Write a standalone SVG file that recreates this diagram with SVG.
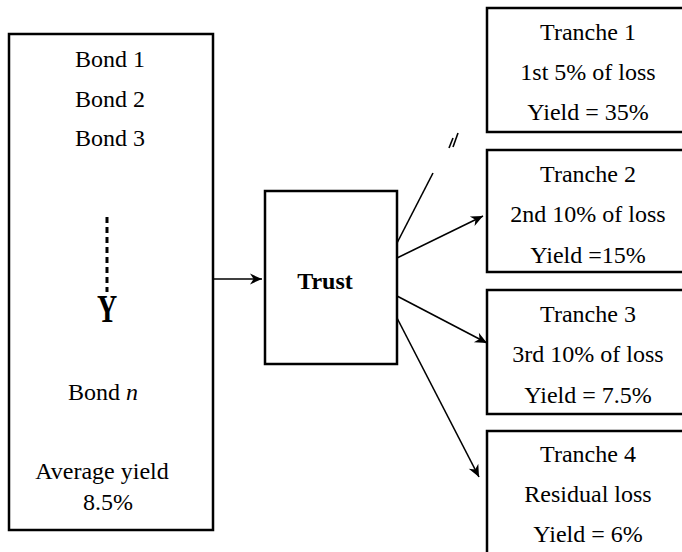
<svg xmlns="http://www.w3.org/2000/svg" width="682" height="552" viewBox="0 0 682 552">
<style>
.box{fill:#fff;stroke:#000;stroke-width:2.5}
.t{font-family:"Liberation Serif","Times New Roman",serif;font-size:24px;fill:#000;text-anchor:middle}
.ln{stroke:#000;stroke-width:1.6;fill:none}
</style>
<defs>
<marker id="ahL" viewBox="0 0 10 10" refX="10" refY="5" markerWidth="16" markerHeight="12" markerUnits="userSpaceOnUse" orient="auto">
<path d="M0,0.5 L10,5 L0,9.5 L3,5 z" fill="#000"/>
</marker>
</defs>
<g id="pool">
<rect class="box" x="9" y="34" width="204" height="496"/>
<text class="t" x="110" y="67">Bond 1</text>
<text class="t" x="110" y="107">Bond 2</text>
<text class="t" x="110" y="146">Bond 3</text>
<line x1="107" y1="217" x2="107" y2="292" stroke="#000" stroke-width="3" stroke-dasharray="6,4"/>
<text x="107" y="322" font-family="Liberation Serif,serif" font-weight="bold" font-size="40" text-anchor="middle" transform="translate(107 0) scale(0.7 1) translate(-107 0)">Y</text>
<text class="t" x="103" y="400">Bond <tspan font-style="italic">n</tspan></text>
<text class="t" x="102" y="479">Average yield</text>
<text class="t" x="108" y="510">8.5%</text>
</g>
<g id="trust">
<rect class="box" x="265" y="191" width="132" height="173"/>
<text class="t" x="325" y="289" font-weight="bold" font-size="20">Trust</text>
</g>
<g id="tranche1">
<rect class="box" x="487" y="8" width="200" height="124"/>
<text class="t" x="588" y="40">Tranche 1</text>
<text class="t" x="588" y="80">1st 5%  of loss</text>
<text class="t" x="588" y="120">Yield = 35%</text>
</g>
<g id="tranche2">
<rect class="box" x="487" y="150" width="200" height="122"/>
<text class="t" x="588" y="182">Tranche 2</text>
<text class="t" x="588" y="222">2nd  10%  of loss</text>
<text class="t" x="588" y="263">Yield =15%</text>
</g>
<g id="tranche3">
<rect class="box" x="487" y="290" width="200" height="124"/>
<text class="t" x="588" y="322">Tranche 3</text>
<text class="t" x="588" y="362">3rd  10%  of loss</text>
<text class="t" x="588" y="403">Yield = 7.5%</text>
</g>
<g id="tranche4">
<rect class="box" x="487" y="431" width="200" height="130"/>
<text class="t" x="588" y="462">Tranche 4</text>
<text class="t" x="588" y="502">Residual  loss</text>
<text class="t" x="588" y="542">Yield = 6%</text>
</g>
<g id="connectors">
<line class="ln" x1="213" y1="279" x2="262" y2="279" marker-end="url(#ahL)"/>
<line class="ln" x1="397" y1="243" x2="433" y2="173"/>
<line class="ln" x1="449" y1="148" x2="453" y2="138" stroke-width="1.2"/>
<line class="ln" x1="453" y1="147" x2="458" y2="133" stroke-width="1.2"/>
<line class="ln" x1="397" y1="258" x2="483" y2="216" marker-end="url(#ahL)"/>
<line class="ln" x1="397" y1="296" x2="487" y2="343" marker-end="url(#ahL)"/>
<line class="ln" x1="397" y1="318" x2="479" y2="477" marker-end="url(#ahL)"/>
</g>
</svg>
